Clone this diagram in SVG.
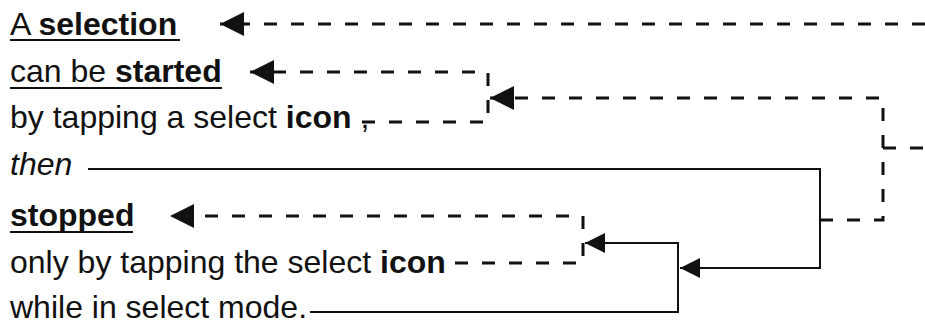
<svg xmlns="http://www.w3.org/2000/svg" width="925" height="327" viewBox="0 0 925 327">
  <style>
    text { font-family: "Liberation Sans", Arial, sans-serif; font-size: 32px; fill: #111; }
    .b { font-weight: bold; }
    .i { font-style: italic; }
    .ul { stroke: #111; stroke-width: 2; }
    .dash { fill: none; stroke: #111; stroke-width: 3; stroke-dasharray: 13 14; }
    .solid { fill: none; stroke: #111; stroke-width: 2; }
  </style>
  <defs>
    <marker id="head-lg" viewBox="0 0 24 24" refX="24" refY="12" markerWidth="24" markerHeight="24" markerUnits="userSpaceOnUse" orient="auto">
      <path d="M0,0 L24,12 L0,24 Z" fill="#111"/>
    </marker>
    <marker id="head-sm" viewBox="0 0 20 20" refX="20" refY="10" markerWidth="20" markerHeight="20" markerUnits="userSpaceOnUse" orient="auto">
      <path d="M0,0 L20,10 L0,20 Z" fill="#111"/>
    </marker>
  </defs>

  <g id="line-selection">
    <text x="10" y="35">A <tspan class="b">selection</tspan></text>
    <line class="ul" x1="10" y1="40" x2="180" y2="40"/>
  </g>
  <g id="line-started">
    <text x="10" y="82">can be <tspan class="b">started</tspan></text>
    <line class="ul" x1="10" y1="88" x2="222" y2="88"/>
  </g>
  <g id="line-tap-start">
    <text x="10" y="128">by tapping a select <tspan class="b">icon</tspan> ,</text>
  </g>
  <g id="line-then">
    <text class="i" x="10" y="175">then</text>
  </g>
  <g id="line-stopped">
    <text class="b" x="10" y="226">stopped</text>
    <line class="ul" x1="10" y1="232" x2="133" y2="232"/>
  </g>
  <g id="line-tap-stop">
    <text x="10" y="273">only by tapping the select <tspan class="b">icon</tspan></text>
  </g>
  <g id="line-mode">
    <text x="10" y="318">while in select mode.</text>
  </g>

  <g id="connectors">
    <!-- dashed links -->
    <path class="dash" d="M925,24 L220,24" marker-end="url(#head-lg)"/>
    <path class="dash" d="M362,122 L488,122 L488,72 L250,72" marker-end="url(#head-lg)"/>
    <path class="dash" d="M820,220 L883,220 L883,98 L490,98" marker-end="url(#head-lg)"/>
    <path class="dash" d="M883,148 L925,148"/>
    <path class="dash" d="M455,263 L583,263 L583,216 L170,216" marker-end="url(#head-lg)"/>
    <!-- solid links -->
    <path class="solid" d="M88,169 L820,169 L820,268 L680,268" marker-end="url(#head-sm)"/>
    <path class="solid" d="M310,312 L678,312 L678,243 L585,243" marker-end="url(#head-sm)"/>
  </g>
</svg>
